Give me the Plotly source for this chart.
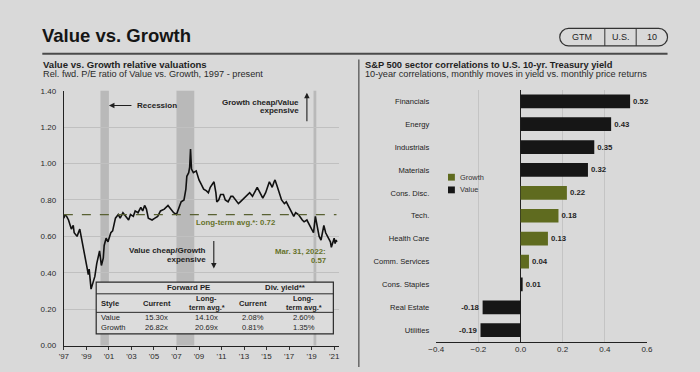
import plotly.graph_objects as go

# ---------------- data ----------------
rel_pe_dates = ["1997-12","1998-01","1998-03","1998-05","1998-08","1998-10","1998-11","1999-02","1999-05","1999-07",
 "1999-09","1999-12","2000-01","2000-02","2000-03","2000-05","2000-07","2000-09","2000-11","2001-02",
 "2001-04","2001-06","2001-07","2001-09","2001-11","2002-02","2002-04","2002-07","2002-10","2002-12",
 "2003-03","2003-06","2003-09","2003-11","2004-02","2004-04","2004-07","2004-10","2004-12","2005-02",
 "2005-04","2005-06","2005-10","2006-01","2006-04","2006-07","2006-11","2007-03","2007-06","2007-09",
 "2007-12","2008-03","2008-05","2008-08","2008-10","2008-11","2009-01","2009-02","2009-03","2009-04",
 "2009-06","2009-09","2009-12","2010-02","2010-05","2010-08","2010-10","2010-12","2011-04","2011-06",
 "2011-07","2011-09","2011-11","2012-02","2012-04","2012-07","2012-10","2012-12","2013-03","2013-06",
 "2013-08","2013-12","2014-03","2014-06","2014-09","2014-12","2015-02","2015-04","2015-08","2015-11",
 "2016-01","2016-03","2016-05","2016-06","2016-08","2016-09","2016-11","2017-01","2017-02","2017-04",
 "2017-07","2017-09","2017-12","2018-02","2018-05","2018-07","2018-10","2019-02","2019-04","2019-07",
 "2019-10","2019-12","2020-02","2020-04","2020-06","2020-08","2020-10","2020-12","2021-01","2021-03",
 "2021-06","2021-08","2021-09","2021-11","2021-12","2022-01","2022-02","2022-03"]
rel_pe_values = [0.70,0.72,0.71,0.69,0.64,0.66,0.62,0.60,0.64,0.59,
 0.53,0.45,0.42,0.39,0.42,0.31,0.34,0.38,0.45,0.52,
 0.44,0.48,0.55,0.59,0.57,0.62,0.63,0.70,0.72,0.70,
 0.73,0.71,0.69,0.72,0.71,0.74,0.73,0.76,0.74,0.77,
 0.75,0.70,0.69,0.70,0.71,0.74,0.75,0.77,0.75,0.73,
 0.72,0.76,0.79,0.80,0.86,0.93,0.95,0.98,1.08,0.97,
 0.95,0.96,0.91,0.89,0.86,0.85,0.84,0.87,0.90,0.84,
 0.79,0.80,0.83,0.83,0.80,0.79,0.82,0.82,0.80,0.78,
 0.79,0.81,0.83,0.84,0.82,0.85,0.87,0.85,0.81,0.84,
 0.87,0.90,0.88,0.87,0.90,0.91,0.88,0.85,0.84,0.80,
 0.78,0.79,0.76,0.74,0.71,0.73,0.72,0.69,0.68,0.69,
 0.66,0.64,0.62,0.71,0.66,0.60,0.58,0.63,0.66,0.62,
 0.59,0.57,0.54,0.58,0.59,0.56,0.58,0.57]
long_term_avg = 0.72
recessions = [("2001-03-01", "2001-11-30"), ("2007-12-01", "2009-06-30"), ("2020-02-01", "2020-04-30")]
x_tick_dates = ["1997-12-01","1999-12-01","2001-12-01","2003-12-01","2005-12-01","2007-12-01","2009-12-01",
                "2011-12-01","2013-12-01","2015-12-01","2017-12-01","2019-12-01","2021-12-01"]
x_tick_labels = ["'97","'99","'01","'03","'05","'07","'09","'11","'13","'15","'17","'19","'21"]

table_header = [["Style"], ["Current"], ["Long-", "term avg.*"], ["Current"], ["Long-", "term avg.*"]]
table_rows = [["Value", "15.30x", "14.10x", "2.08%", "2.60%"],
              ["Growth", "26.82x", "20.69x", "0.81%", "1.35%"]]

sectors = ["Financials", "Energy", "Industrials", "Materials", "Cons. Disc.", "Tech.", "Health Care",
           "Comm. Services", "Cons. Staples", "Real Estate", "Utilities"]
correlations = [0.52, 0.43, 0.35, 0.32, 0.22, 0.18, 0.13, 0.04, 0.01, -0.18, -0.19]
style = ["Value", "Value", "Value", "Value", "Growth", "Growth", "Growth", "Growth", "Value", "Value", "Value"]

# ---------------- styling ----------------
W, H = 700, 372
BG = "#d9d9d9"
INK = "#1f1f1f"
OLIVE = "#66722a"
GROWTH = "#5f6b1f"
VALUE = "#161616"
FONT = "Liberation Sans, Arial, sans-serif"

def px(x):
    return x / W

def py(y):
    return 1 - y / H

fig = go.Figure()

# line chart
fig.add_trace(go.Scatter(x=rel_pe_dates, y=rel_pe_values, mode="lines",
                         line=dict(color="#111111", width=1.6), xaxis="x", yaxis="y",
                         showlegend=False, hoverinfo="skip"))

# bar chart
for s, col in [("Growth", GROWTH), ("Value", VALUE)]:
    ys = [sec for sec, st in zip(sectors, style) if st == s]
    xs = [c for c, st in zip(correlations, style) if st == s]
    fig.add_trace(go.Bar(x=xs, y=ys, orientation="h", marker=dict(color=col, line=dict(width=0)),
                         width=0.6, xaxis="x2", yaxis="y2", name=s, showlegend=False,
                         texttemplate="<b>%{x:.2f}</b>", textposition="outside",
                         textfont=dict(size=7.8, color=INK, family=FONT), cliponaxis=False,
                         hoverinfo="skip"))

shapes = []
for a, b in recessions:
    shapes.append(dict(type="rect", xref="x", yref="y domain", x0=a, x1=b, y0=0, y1=1,
                       fillcolor="rgba(135,135,135,0.38)", line=dict(width=0), layer="below"))
shapes.append(dict(type="line", xref="x domain", yref="y", x0=0, x1=0.99, y0=long_term_avg, y1=long_term_avg,
                   line=dict(color="#596133", width=1.2, dash="dash")))

shapes.append(dict(type="line", xref="paper", yref="paper", x0=px(35), x1=px(673), y0=py(51), y1=py(51),
                   line=dict(color="#4a4a4a", width=2)))
shapes.append(dict(type="line", xref="paper", yref="paper", x0=px(358), x1=px(358), y0=py(57), y1=py(372),
                   line=dict(color="#555555", width=1.3)))

def pth(pts):
    out = []
    for cmd, coords in pts:
        out.append(cmd + " ".join(f"{px(x):.5f},{py(y):.5f}" for x, y in coords))
    return " ".join(out) + " Z"

pill = pth([("M", [(572, 25)]), ("L", [(664, 25)]),
            ("C", [(669, 25), (673, 29), (673, 34)]),
            ("C", [(673, 39), (669, 43), (664, 43)]),
            ("L", [(572, 43)]),
            ("C", [(567, 43), (563, 39), (563, 34)]),
            ("C", [(563, 29), (567, 25), (572, 25)])])
shapes.append(dict(type="path", xref="paper", yref="paper", path=pill, line=dict(color="#333333", width=1.2)))
for xd in (609, 641):
    shapes.append(dict(type="line", xref="paper", yref="paper", x0=px(xd), x1=px(xd), y0=py(25), y1=py(43),
                       line=dict(color="#333333", width=1)))

shapes.append(dict(type="rect", xref="paper", yref="paper", x0=px(90), x1=px(332), y0=py(285), y1=py(338),
                   fillcolor="#dcdcdc", line=dict(color="#2a2a2a", width=1.2)))
for yl in (297, 316):
    shapes.append(dict(type="line", xref="paper", yref="paper", x0=px(90), x1=px(332), y0=py(yl), y1=py(yl),
                       line=dict(color="#2a2a2a", width=1)))

shapes.append(dict(type="rect", xref="paper", yref="paper", x0=px(449), x1=px(456), y0=py(174), y1=py(181),
                   fillcolor=GROWTH, line=dict(width=0)))
shapes.append(dict(type="rect", xref="paper", yref="paper", x0=px(449), x1=px(456), y0=py(187), y1=py(194),
                   fillcolor=VALUE, line=dict(width=0)))

ann = []
def text(x, y, t, size=8, color=INK, xanchor="left", yanchor="middle", align="left"):
    ann.append(dict(xref="paper", yref="paper", x=px(x), y=py(y), text=t, showarrow=False,
                    xanchor=xanchor, yanchor=yanchor, align=align, borderpad=0,
                    font=dict(size=size, color=color, family=FONT)))

def arrow(hx, hy, tx, ty):
    ann.append(dict(xref="paper", yref="paper", x=px(hx), y=py(hy), ax=tx - hx, ay=ty - hy,
                    text="", showarrow=True, arrowhead=2, arrowsize=1,
                    arrowwidth=1.1, arrowcolor=INK))

text(34, 32, "<b>Value vs. Growth</b>", size=18.5, color="#151515")
text(35, 62.5, "<b>Value vs. Growth relative valuations</b>", size=9.6)
text(35, 72, "Rel. fwd. P/E ratio of Value vs. Growth, 1997 - present", size=9.2, color="#2a2a2a")
text(363, 62.5, "<b>S&P 500 sector correlations to U.S. 10-yr. Treasury yield</b>", size=9.3)
text(363, 72, "10-year correlations, monthly moves in yield vs. monthly price returns", size=9.2, color="#2a2a2a")
text(586, 34, "GTM", size=9, xanchor="center")
text(625, 34, "U.S.", size=9, xanchor="center")
text(657, 34, "10", size=9, xanchor="center")

# line chart annotations
text(131, 104, "<b>Recession</b>", size=8)
arrow(103, 104, 127, 104)
text(298, 101, "<b>Growth cheap/Value</b>", size=8, xanchor="right")
text(298, 109.5, "<b>expensive</b>", size=8, xanchor="right")
arrow(305, 91, 305, 121)
text(203, 253, "<b>Value cheap/Growth</b>", size=8, xanchor="right")
text(203, 261.5, "<b>expensive</b>", size=8, xanchor="right")
arrow(210, 271, 210, 242)
text(191, 224, "<b>Long-term avg.*: %.2f</b>" % long_term_avg, size=7.8, color=OLIVE)
text(326, 254, "<b>Mar. 31, 2022:</b>", size=7.8, color=OLIVE, xanchor="right")
text(326, 263, "<b>%.2f</b>" % rel_pe_values[-1], size=7.8, color=OLIVE, xanchor="right")

# table text
text(184, 291, "<b>Forward PE</b>", size=7.8, xanchor="center")
text(283, 291, "<b>Div. yield**</b>", size=7.8, xanchor="center")
col_x = [94, 152, 203, 250, 302]
for i, h in enumerate(table_header):
    if len(h) == 1:
        text(col_x[i], 306.5, "<b>%s</b>" % h[0], size=7.6, xanchor="left" if i == 0 else "center")
    else:
        text(col_x[i], 302, "<b>%s</b>" % h[0], size=7.4, xanchor="center")
        text(col_x[i], 311, "<b>%s</b>" % h[1], size=7.4, xanchor="center")
for r, row in enumerate(table_rows):
    for i, v in enumerate(row):
        text(col_x[i], 321.5 + r * 10.5, v, size=7.6, xanchor="left" if i == 0 else "center")

# legend text
text(460, 177.5, "Growth", size=7.4, color="#333333")
text(460, 190.5, "Value", size=7.4, color="#333333")

fig.update_layout(
    width=W, height=H, margin=dict(l=0, r=0, t=0, b=0),
    paper_bgcolor=BG, plot_bgcolor="rgba(0,0,0,0)",
    font=dict(family=FONT, color=INK, size=8),
    shapes=shapes, annotations=ann, barmode="overlay", bargap=0.4,
    xaxis=dict(domain=[px(57), px(338)], type="date", range=["1997-12-01", "2022-05-15"],
               tickvals=x_tick_dates, ticktext=x_tick_labels, ticks="outside", ticklen=3,
               tickcolor="#333", showgrid=False, showline=True, linecolor="#222", linewidth=1,
               tickfont=dict(size=8, color="#2a2a2a"), anchor="y", zeroline=False),
    yaxis=dict(domain=[py(350), py(89)], range=[0, 1.4], dtick=0.2, tickformat=".2f",
               showgrid=True, gridcolor="#c0c0c0", gridwidth=1, showline=True, linecolor="#222",
               linewidth=1.2, tickfont=dict(size=8, color="#2a2a2a"), ticks="", zeroline=False,
               anchor="x", ticklabelstandoff=5),
    xaxis2=dict(domain=[px(437), px(652)], range=[-0.4, 0.6], dtick=0.2, tickformat=".1f",
                showgrid=True, gridcolor="#c4c4c4", showline=True, linecolor="#222", linewidth=1,
                zeroline=True, zerolinecolor="#222", zerolinewidth=1,
                tickfont=dict(size=8, color="#2a2a2a"), anchor="y2", ticks=""),
    yaxis2=dict(domain=[py(346), py(88)], type="category", categoryorder="array", categoryarray=sectors,
                autorange="reversed", showgrid=False, showline=False, ticks="",
                tickfont=dict(size=7.6, color="#222"), anchor="x2", ticklabelstandoff=6),
)

fig.write_html("out.html", config={"displayModeBar": False},
               post_script="document.body.style.margin='0px';document.body.style.overflow='hidden';")
